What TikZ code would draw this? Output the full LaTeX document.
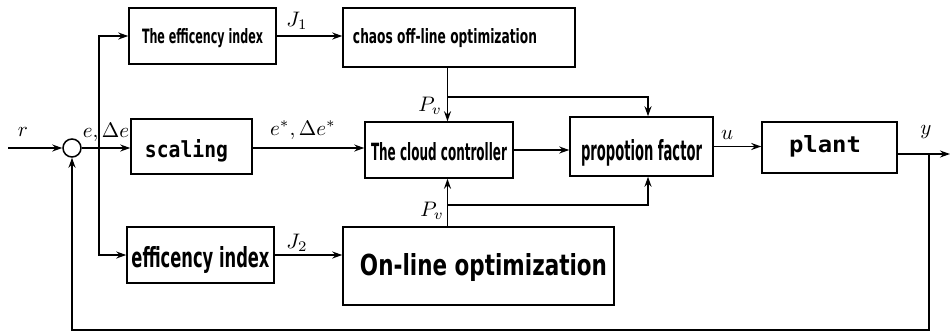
\documentclass[tikz,border=0pt]{standalone}
\usepackage{fontspec}
\usepackage{graphicx}
\usetikzlibrary{arrows.meta}
\newfontfamily\cf{DejaVu Sans}
\newfontfamily\mf{DejaVu Sans Mono}
\newcommand{\fitt}[3]{\resizebox{#1pt}{#2pt}{#3}}
\newcommand{\ml}[1]{\scalebox{2.1}{$#1$}}
\tikzset{
  blk/.style={draw, line width=1.5pt, rectangle, inner sep=0pt, text depth=0pt},
  tb/.style={text height=#1pt},
  lbl/.style={inner sep=0pt},
  conn/.style={line width=1.5pt, -{Stealth[length=10pt,width=7pt]}},
  wire/.style={line width=1.5pt}
}
\begin{document}
\begin{tikzpicture}[x=1pt, y=-1pt]
\useasboundingbox (0,0) rectangle (952,333);
% blocks
\node[blk, tb=14, minimum width=147pt, minimum height=56pt] (idx1) at (202.5,36)
  {\fitt{121}{15}{\cf\bfseries The efficency index}};
\node[blk, tb=11, minimum width=232pt, minimum height=59pt] (chaos) at (459,37.5)
  {\fitt{184}{15}{\cf\bfseries chaos off-line optimization}\kern28pt};
\node[blk, tb=21, minimum width=121pt, minimum height=55pt] (scaling) at (191.5,146.5)
  {\fitt{83}{18}{\mf\bfseries scaling}\kern10pt};
\node[blk, tb=20, minimum width=148pt, minimum height=56pt] (cloud) at (439,150)
  {\fitt{136}{18}{\cf\bfseries The cloud controller}};
\node[blk, tb=27, minimum width=143pt, minimum height=59pt] (prop) at (641.5,146.5)
  {\fitt{121}{21}{\cf\bfseries propotion factor}};
\node[blk, tb=9, minimum width=135pt, minimum height=51pt] (plant) at (829.5,147.5)
  {\fitt{72}{17}{\mf\bfseries plant}\kern9pt};
\node[blk, tb=24, minimum width=147pt, minimum height=56pt] (idx2) at (200.5,255)
  {\fitt{138}{21}{\cf\bfseries efficency index}};
\node[blk, tb=18, minimum width=271pt, minimum height=78pt] (online) at (478.5,266)
  {\kern10pt\fitt{247}{22}{\cf\bfseries On-line optimization}};
\node[circle, draw, line width=1.5pt, minimum size=18pt, inner sep=0pt] (sum) at (72,148) {};
% coordinates
\coordinate (rin) at (8,148);
\coordinate (jb) at (99,148);
\coordinate (pv1) at (447.5,97);
\coordinate (pv2) at (447.5,205);
\coordinate (pa) at (648,0);
\coordinate (yout) at (950,154);
\coordinate (fb) at (929,154);
\coordinate (fbb) at (929,330);
% connectors
\draw[conn] (rin) -- (sum.west);
\draw[conn] (sum.east) -- (sum -| scaling.west);
\draw[conn] (jb) |- (idx1.west);
\draw[conn] (jb) |- (idx2.west);
\draw[conn] (idx1.east) -- (idx1.east -| chaos.west);
\draw[conn] (scaling.east |- sum) -- (sum -| cloud.west);
\draw[conn] (chaos.south -| pv1) -- (cloud.north -| pv1);
\draw[conn] (pv1) -| (prop.north -| pa);
\draw[conn] (online.north -| pv2) -- (cloud.south -| pv2);
\draw[conn] (pv2) -| (prop.south -| pa);
\draw[conn] (cloud.east) -- (cloud.east -| prop.west);
\draw[conn] (prop.east) -- (prop.east -| plant.west);
\draw[conn] (plant.east |- yout) -- (yout);
\draw[conn] (fb) -- (fbb) -| (sum.south);
\draw[conn] (idx2.east) -- (idx2.east -| online.west);
% labels
\node[lbl] (lr) at (23,132) {\ml{r}};
\node[lbl] (le) at (106,132) {\ml{e,\Delta e}};
\node[lbl] (les) at (303,130) {\ml{e^{*},\Delta e^{*}}};
\node[lbl] (lj1) at (297,21) {\ml{J_1}};
\node[lbl] (lj2) at (297,243) {\ml{J_2}};
\node[lbl] (lp1) at (430,106) {\ml{P_v}};
\node[lbl] (lp2) at (432,211) {\ml{P_v}};
\node[lbl] (lu) at (727,135) {\ml{u}};
\node[lbl] (ly) at (926,132) {\ml{y}};
\end{tikzpicture}
\end{document}
